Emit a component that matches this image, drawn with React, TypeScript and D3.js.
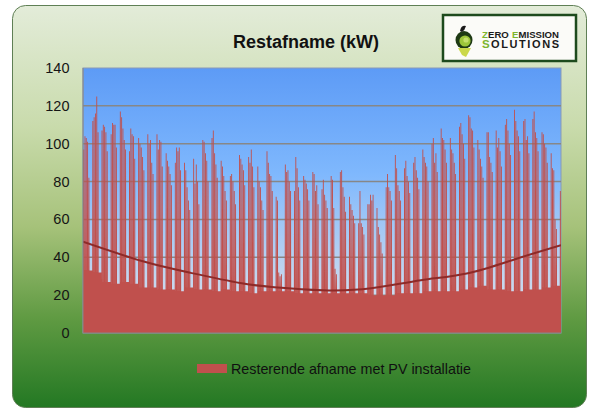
import React from "react";
import * as d3 from "d3";

const W = 589;
const H = 410;

// Daily peak (kW) on weekdays, one row per week (Mon..Fri)
const weekdayPeaks: number[][] = [
  [97, 104, 103, 101, 82],
  [112, 114, 116, 125, 106],
  [107, 110, 109, 106, 96],
  [105, 111, 110, 110, 98],
  [117, 114, 108, 102, 97],
  [96, 108, 105, 104, 92],
  [103, 100, 98, 93, 86],
  [105, 100, 102, 90, 84],
  [105, 97, 102, 101, 88],
  [95, 91, 88, 84, 78],
  [90, 98, 96, 98, 86],
  [90, 86, 77, 70, 65],
  [92, 79, 89, 80, 68],
  [102, 101, 95, 91, 80],
  [103, 107, 95, 89, 82],
  [91, 88, 83, 75, 70],
  [83, 84, 80, 75, 68],
  [94, 92, 89, 86, 78],
  [93, 90, 97, 88, 77],
  [88, 80, 77, 70, 65],
  [96, 90, 84, 83, 75],
  [72, 70, 32, 30, 31],
  [89, 85, 86, 80, 75],
  [75, 93, 87, 77, 70],
  [83, 81, 79, 76, 70],
  [85, 84, 75, 78, 68],
  [76, 81, 73, 70, 66],
  [83, 81, 66, 34, 31],
  [85, 86, 77, 72, 64],
  [72, 68, 65, 62, 58],
  [58, 75, 58, 56, 52],
  [68, 68, 73, 70, 73],
  [66, 56, 52, 48, 42],
  [77, 84, 77, 75, 70],
  [94, 87, 78, 75, 70],
  [87, 91, 83, 80, 74],
  [90, 93, 86, 82, 76],
  [97, 93, 90, 88, 80],
  [100, 103, 90, 95, 85],
  [108, 103, 102, 97, 90],
  [103, 97, 95, 90, 84],
  [109, 111, 105, 100, 92],
  [115, 114, 108, 107, 98],
  [102, 97, 92, 88, 82],
  [106, 106, 93, 90, 85],
  [107, 98, 103, 96, 88],
  [110, 113, 107, 100, 94],
  [118, 112, 107, 104, 96],
  [112, 113, 102, 104, 95],
  [113, 117, 106, 103, 96],
  [106, 105, 100, 98, 90],
  [95, 87, 86, 60, 55],
  [75],
];

// Night / weekend base load per week (kW)
const weekFloor: number[] = [
  33, 32, 27, 26, 27, 26, 24, 24, 23, 23, 22, 24, 23, 23, 22, 23, 22, 22, 21,
  22, 22, 22, 22, 21, 21, 21, 21, 21, 21, 21, 21, 20, 20, 20, 21, 21, 21, 22,
  22, 22, 22, 23, 24, 25, 23, 23, 22, 22, 23, 23, 24, 25, 25,
];

// Trendline (day of year -> kW)
const trendDays = [0, 45, 82, 120, 146, 183, 220, 258, 293, 330, 365];
const trendValues = [48.2, 38, 31.8, 26.4, 24.2, 22.6, 23.6, 27.9, 31.4, 39, 46.4];

const yTicks = [0, 20, 40, 60, 80, 100, 120, 140];
const title = "Restafname (kW)";
const legendLabel = "Resterende afname met PV installatie";

const DAYS = 365;
const plot = { left: 83, right: 561, top: 68, bottom: 333 };

export default function App() {
  const x = d3.scaleLinear().domain([0, DAYS]).range([plot.left, plot.right]);
  const y = d3.scaleLinear().domain([0, 140]).range([plot.bottom, plot.top]);

  // load profile: each weekday rises from the night floor to its peak
  const pts: [number, number][] = [];
  weekdayPeaks.forEach((week, w) => {
    const f = weekFloor[w];
    for (let d = 0; d < 7; d++) {
      const t = w * 7 + d;
      if (t >= DAYS) break;
      if (d < week.length) {
        pts.push([t + 0.02, f]);
        pts.push([t + 0.16, week[d]]);
        pts.push([t + 0.84, week[d]]);
        pts.push([t + 0.98, f]);
      } else {
        pts.push([t, f]);
        pts.push([t + 1, f]);
      }
    }
  });
  pts.push([DAYS, weekFloor[weekFloor.length - 1]]);

  const area = d3
    .area<[number, number]>()
    .x((d) => x(d[0]))
    .y0(y(0))
    .y1((d) => y(d[1]));

  const trend = d3
    .line<number>()
    .x((_d, i) => x(trendDays[i]))
    .y((d) => y(d))
    .curve(d3.curveNatural);

  const font = "'Liberation Sans', Arial, sans-serif";
  const green = "#7db52e";

  return (
    <div style={{ position: "absolute", left: 0, top: 0 }}>
      <svg width={W} height={H} style={{ display: "block" }}>
        <defs>
          <linearGradient id="bg" x1="0" y1="0" x2="0" y2="1">
            <stop offset="0" stopColor="#e3ecd9" />
            <stop offset="0.3" stopColor="#c9dbac" />
            <stop offset="0.55" stopColor="#a6c27a" />
            <stop offset="0.78" stopColor="#5f9a42" />
            <stop offset="1" stopColor="#237823" />
          </linearGradient>
          <linearGradient id="plotbg" x1="0" y1="0" x2="0" y2="1">
            <stop offset="0" stopColor="#5d9bf6" />
            <stop offset="0.4" stopColor="#7fb8fd" />
            <stop offset="0.75" stopColor="#bcd3f0" />
            <stop offset="1" stopColor="#e4e3ea" />
          </linearGradient>
          <clipPath id="clip">
            <rect x={plot.left} y={plot.top} width={plot.right - plot.left} height={plot.bottom - plot.top} />
          </clipPath>
        </defs>

        <rect x={12.5} y={5.5} width={574} height={402} rx={13} fill="url(#bg)" stroke="#5f7f55" strokeWidth={1} />

        <text x={306} y={48} textAnchor="middle" fontFamily={font} fontWeight="bold" fontSize={18} fill="#111">
          {title}
        </text>

        {/* logo */}
        <g>
          <rect x={443} y={15} width={133} height={46} fill="#fbfbf8" stroke="#1d4a1d" strokeWidth={2.5} />
          <ellipse cx={464} cy={40} rx={8.5} ry={9} fill="#1e3a14" />
          <circle cx={465} cy={41} r={5.6} fill="#9cc63a" />
          <circle cx={466} cy={40} r={2.6} fill="#c4e06a" />
          <path d="M460,31 Q461,25 466,26 Q465,30 462,32 Z" fill="#1a1a1a" />
          <path d="M458,48 L471,48 L466,57 L462,55 Z" fill="#cbd84a" />
          <text x={482} y={37.5} fontFamily={font} fontWeight="bold" fontSize={9.6} fill={green}>Z</text>
          <text x={488} y={37.5} fontFamily={font} fontWeight="bold" fontSize={9.6} fill="#1a1a1a">ERO</text>
          <text x={512} y={37.5} fontFamily={font} fontWeight="bold" fontSize={9.6} fill={green}>E</text>
          <text x={518.5} y={37.5} fontFamily={font} fontWeight="bold" fontSize={9.6} fill="#1a1a1a">MISSION</text>
          <text x={482} y={48} fontFamily={font} fontWeight="bold" fontSize={11.5} fill={green}>S</text>
          <text x={491} y={48} fontFamily={font} fontWeight="bold" fontSize={11} letterSpacing={1.6} fill="#1a1a1a">OLUTIONS</text>
        </g>

        {/* plot area */}
        <rect x={plot.left} y={plot.top} width={plot.right - plot.left} height={plot.bottom - plot.top} fill="url(#plotbg)" stroke="#8a9ab5" strokeWidth={1} />
        {yTicks.slice(1, -1).map((t) => (
          <line key={t} x1={plot.left} x2={plot.right} y1={y(t)} y2={y(t)} stroke="#878787" strokeWidth={1.5} />
        ))}

        <g clipPath="url(#clip)">
          <path d={area(pts) ?? ""} fill="#c0504d" />
          <path d={trend(trendValues) ?? ""} fill="none" stroke="#8e2a28" strokeWidth={2} />
        </g>

        <line x1={plot.left} x2={plot.left} y1={plot.top} y2={plot.bottom} stroke="#868686" strokeWidth={1} />
        <line x1={plot.left} x2={plot.right} y1={plot.bottom} y2={plot.bottom} stroke="#868686" strokeWidth={1} />

        {yTicks.map((t) => (
          <text key={t} x={69.5} y={y(t) + 5} textAnchor="end" fontFamily={font} fontSize={14.5} fill="#151515">
            {t}
          </text>
        ))}

        {/* legend */}
        <rect x={197} y={364} width={30} height={9} fill="#c0504d" />
        <text x={231} y={373.5} fontFamily={font} fontSize={14.3} fill="#101010">
          {legendLabel}
        </text>
      </svg>
    </div>
  );
}
